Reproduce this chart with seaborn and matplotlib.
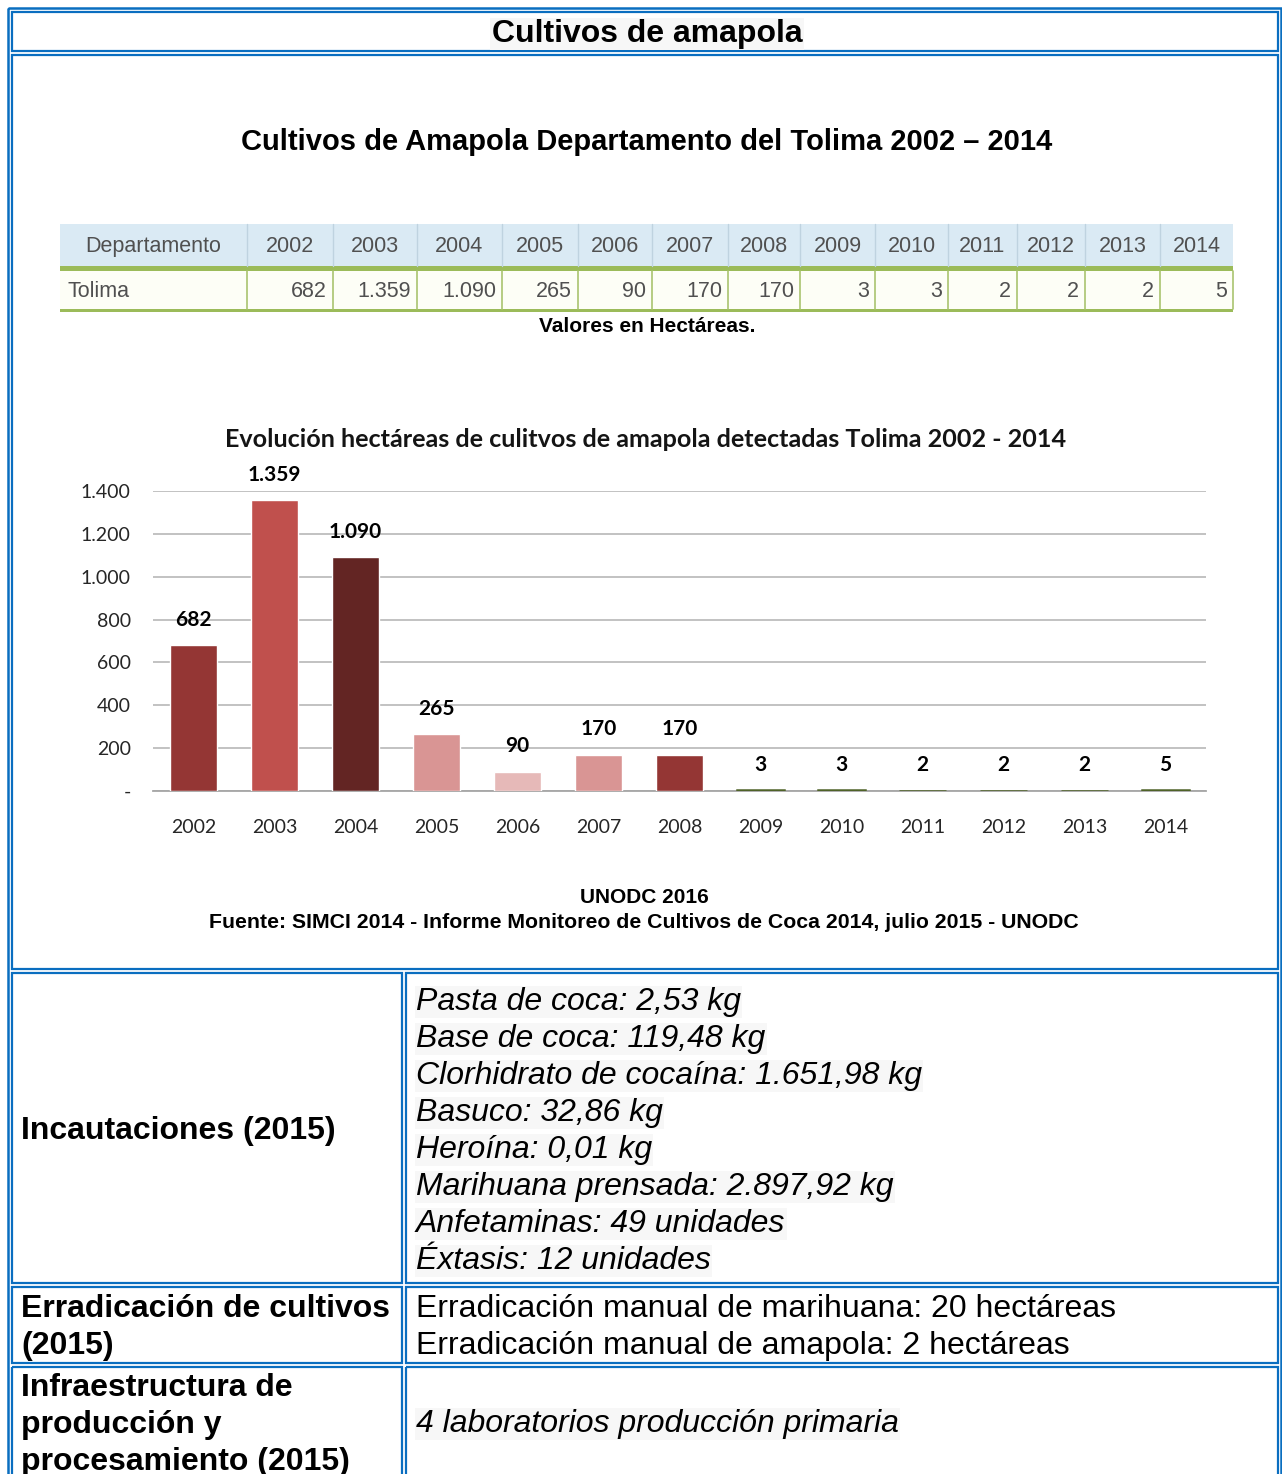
import matplotlib
matplotlib.use("Agg")
import matplotlib.pyplot as plt
import seaborn as sns
from matplotlib import font_manager
from matplotlib.patches import Rectangle

# Datos del cuadro y de la grafica
years = ["2002", "2003", "2004", "2005", "2006", "2007", "2008",
         "2009", "2010", "2011", "2012", "2013", "2014"]
hectares = [682, 1359, 1090, 265, 90, 170, 170, 3, 3, 2, 2, 2, 5]
bar_colors = ["#943634", "#C0504D", "#632523", "#D99594", "#E6B9B8", "#D99594",
              "#943634", "#4F6228", "#4F6228", "#4F6228", "#4F6228", "#4F6228", "#4F6228"]
y_ticks = [0, 200, 400, 600, 800, 1000, 1200, 1400]
y_tick_labels = ["-", "200", "400", "600", "800", "1.000", "1.200", "1.400"]

seizures = ["Pasta de coca: 2,53 kg", "Base de coca: 119,48 kg",
            "Clorhidrato de cocaína: 1.651,98 kg", "Basuco: 32,86 kg",
            "Heroína: 0,01 kg", "Marihuana prensada: 2.897,92 kg",
            "Anfetaminas: 49 unidades", "Éxtasis: 12 unidades"]
eradication = ["Erradicación manual de marihuana: 20 hectáreas",
               "Erradicación manual de amapola: 2 hectáreas"]
infrastructure = ["4 laboratorios producción primaria"]


def es_num(v):
    return f"{v:,}".replace(",", ".")


sns.set_theme(style="white")
plt.rcParams["font.family"] = ["Liberation Sans", "DejaVu Sans"]
plt.rcParams["text.color"] = "black"

names = {f.name for f in font_manager.fontManager.ttflist}
narrow = "Liberation Sans Narrow" if "Liberation Sans Narrow" in names else None
chart_font = "Lato" if "Lato" in names else "DejaVu Sans"

W, H = 1282, 1474
BLUE = "#0A6EC0"
fig = plt.figure(figsize=(W / 100, H / 100), dpi=100)
page = fig.add_axes([0, 0, 1, 1])
page.set_xlim(0, W)
page.set_ylim(H, 0)
page.axis("off")


def box(x0, y0, x1, y1, lw=1.6):
    page.add_patch(Rectangle((x0, y0), x1 - x0, y1 - y0, fill=False,
                             edgecolor=BLUE, lw=lw))


# Bordes de la tabla html
box(8, 8, 1281, 1520, lw=1.8)
box(12, 12, 1278, 51)
box(12, 55, 1278, 969)
for y0, y1 in [(973, 1283), (1287, 1363), (1367, 1520)]:
    box(12, y0, 402, y1)
    box(406, y0, 1278, y1)

hl = dict(facecolor="#F7F7F7", edgecolor="none", pad=1)
page.text(647, 34, "Cultivos de amapola", ha="center", va="center",
          fontsize=23, fontweight="bold", bbox=hl)
page.text(647, 142, "Cultivos de Amapola Departamento del Tolima 2002 – 2014",
          ha="center", va="center", fontsize=21, fontweight="bold")

# Cuadro de valores
col_edges = [60, 247, 333, 417, 502, 578, 652, 728, 800, 875, 948, 1017, 1085, 1160, 1233]
head_top, head_bot, row_top, row_bot = 224, 266, 271, 309
page.add_patch(Rectangle((col_edges[0], head_top), col_edges[-1] - col_edges[0],
                         head_bot - head_top, color="#DAEAF4", lw=0))
page.add_patch(Rectangle((col_edges[0], row_top), col_edges[-1] - col_edges[0],
                         row_bot - row_top, color="#FDFEF6", lw=0))
page.add_patch(Rectangle((col_edges[0], head_bot), col_edges[-1] - col_edges[0],
                         row_top - head_bot, color="#9BBB59", lw=0))
page.add_patch(Rectangle((col_edges[0], row_bot), col_edges[-1] - col_edges[0],
                         3, color="#9BBB59", lw=0))
for x in col_edges[1:-1]:
    page.plot([x, x], [head_top, head_bot], color="#BFD3E0", lw=1)
    page.plot([x, x], [row_top, row_bot], color="#A9C46F", lw=1.2)
page.plot([col_edges[-1]] * 2, [row_top, row_bot], color="#A9C46F", lw=1.2)

if narrow:
    tkw = dict(family=narrow, fontsize=18, color="#505050")
else:
    tkw = dict(fontsize=15.5, color="#505050")
head_y = (head_top + head_bot) / 2 + 1
row_y = (row_top + row_bot) / 2 + 1
page.text((col_edges[0] + col_edges[1]) / 2, head_y, "Departamento",
          ha="center", va="center", **tkw)
page.text(col_edges[0] + 7, row_y, "Tolima", ha="left", va="center", **tkw)
for i, (yr, v) in enumerate(zip(years, hectares)):
    page.text((col_edges[i + 1] + col_edges[i + 2]) / 2, head_y, yr,
              ha="center", va="center", **tkw)
    page.text(col_edges[i + 2] - 6, row_y, es_num(v), ha="right", va="center", **tkw)

page.text(647, 326, "Valores en Hectáreas.", ha="center", va="center",
          fontsize=15, fontweight="bold")

# Grafica de barras
ax = fig.add_axes([153 / W, 1 - 791 / H, (1206 - 153) / W, 300 / H])
sns.barplot(x=years, y=hectares, hue=years, palette=bar_colors, legend=False,
            width=0.57, saturation=1, ax=ax)
ax.set_facecolor("none")
ax.set_xlim(-0.5, 12.5)
ax.set_ylim(0, 1400)
ax.set_yticks(y_ticks, y_tick_labels)
ax.set_xlabel("")
ax.set_ylabel("")
ax.yaxis.grid(True, color="#B2B2B2", lw=1.1)
ax.set_axisbelow(True)
for s in ["left", "right", "top"]:
    ax.spines[s].set_visible(False)
ax.spines["bottom"].set_color("#A6A6A6")
ax.spines["bottom"].set_linewidth(1.3)
ax.spines["bottom"].set_zorder(1.5)
ax.tick_params(axis="y", length=0, pad=16, labelsize=14, labelcolor="#262626")
ax.tick_params(axis="x", length=0, pad=20, labelsize=14, labelcolor="#262626")
for lab in ax.get_xticklabels() + ax.get_yticklabels():
    lab.set_family(chart_font)
for patch in ax.patches:
    patch.set_zorder(3)
    if patch.get_height() < 10:
        patch.set_edgecolor(patch.get_facecolor())
        patch.set_linewidth(1.8)
for cont, v in zip(ax.containers, hectares):
    ax.bar_label(cont, labels=[es_num(v)], padding=11, fontsize=15,
                 fontweight="bold", family=chart_font, color="black")

page.text(646, 439, "Evolución hectáreas de culitvos de amapola detectadas Tolima 2002 - 2014",
          ha="center", va="center", fontsize=18.1, fontweight="bold",
          family=chart_font, color="#141414")

page.text(644, 897, "UNODC 2016", ha="center", va="center",
          fontsize=15, fontweight="bold")
page.text(644, 922, "Fuente: SIMCI 2014 - Informe Monitoreo de Cultivos de Coca 2014, julio 2015 - UNODC",
          ha="center", va="center", fontsize=15.3, fontweight="bold")

# Filas inferiores
page.text(21, 1131, "Incautaciones (2015)", ha="left", va="center",
          fontsize=23, fontweight="bold")
for i, line in enumerate(seizures):
    page.text(416, 1002 + i * 37, line, ha="left", va="center", fontsize=23,
              style="italic", bbox=hl)

page.text(21, 1309, "Erradicación de cultivos", ha="left", va="center",
          fontsize=23, fontweight="bold")
page.text(21, 1346, "(2015)", ha="left", va="center", fontsize=23, fontweight="bold")
for i, line in enumerate(eradication):
    page.text(416, 1309 + i * 37, line, ha="left", va="center", fontsize=23)

for i, line in enumerate(["Infraestructura de", "producción y", "procesamiento (2015)"]):
    page.text(21, 1388 + i * 37, line, ha="left", va="center",
              fontsize=23, fontweight="bold")
page.text(416, 1424, infrastructure[0], ha="left", va="center", fontsize=23,
          style="italic", bbox=hl)

fig.savefig("out.png", dpi=100)
